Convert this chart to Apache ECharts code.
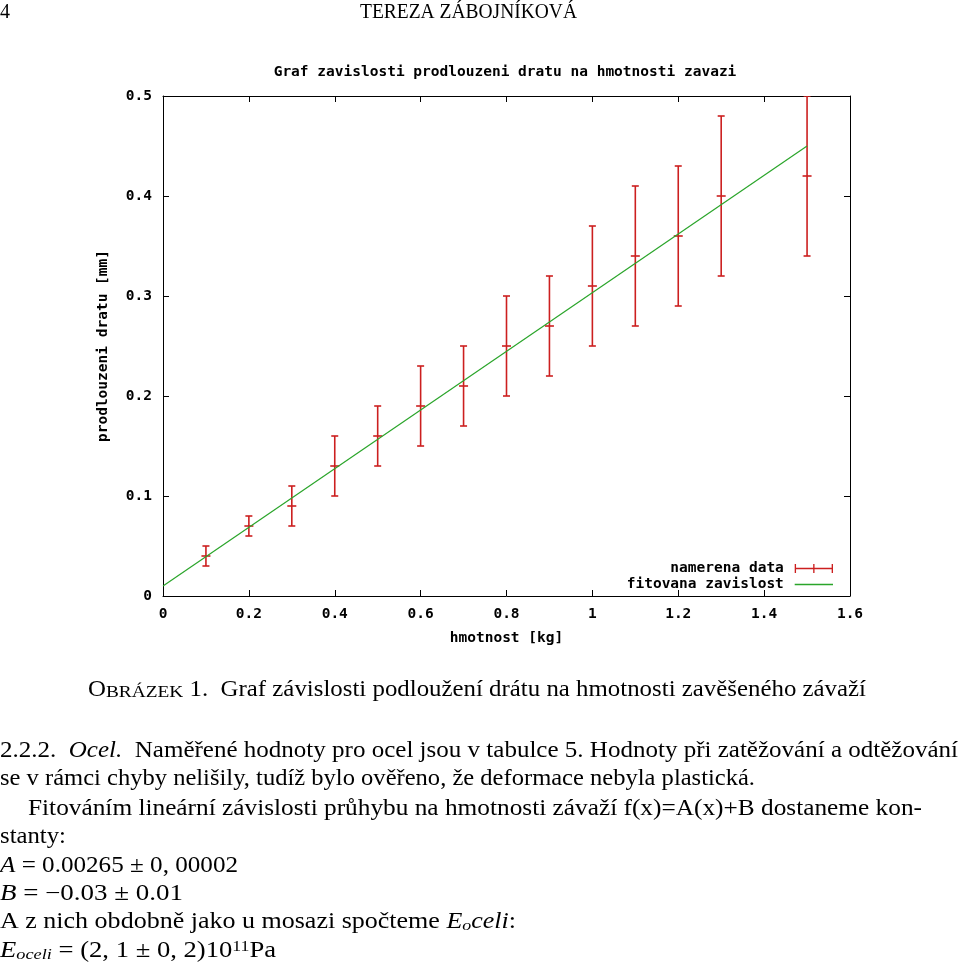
<!DOCTYPE html>
<html><head><meta charset="utf-8">
<script src="https://cdn.jsdelivr.net/npm/echarts@6/dist/echarts.min.js"></script>
<style>html,body{margin:0;padding:0;background:#fff}#c{width:960px;height:968px}</style>
</head><body><div id="c"></div>
<script>
// ---- data ----
const massKg         = [0.1, 0.2, 0.3, 0.4, 0.5, 0.6, 0.7, 0.8, 0.9, 1.0, 1.1, 1.2, 1.3, 1.5];
const elongation     = [0.04, 0.07, 0.09, 0.13, 0.16, 0.19, 0.21, 0.25, 0.27, 0.31, 0.34, 0.36, 0.40, 0.42];
const elongationLow  = [0.03, 0.06, 0.07, 0.10, 0.13, 0.15, 0.17, 0.20, 0.22, 0.25, 0.27, 0.29, 0.32, 0.34];
const elongationHigh = [0.05, 0.08, 0.11, 0.16, 0.19, 0.23, 0.25, 0.30, 0.32, 0.37, 0.41, 0.43, 0.48, 0.50];
const fitMass        = [0, 1.5];
const fitElongation  = [0.01, 0.45];
const xTickLabels = ['0', '0.2', '0.4', '0.6', '0.8', '1', '1.2', '1.4', '1.6'];
const yTickLabels = ['0', '0.1', '0.2', '0.3', '0.4', '0.5'];
const seriesNames = ['namerena data', 'fitovana zavislost'];
const chartTitle = 'Graf zavislosti prodlouzeni dratu na hmotnosti zavazi';
const xName = 'hmotnost [kg]';
const yName = 'prodlouzeni dratu [mm]';

// ---- styles ----
const MONO = '"DejaVu Sans Mono", "Liberation Mono", monospace';
const SERIF = '"Liberation Serif", "Times New Roman", serif';
const RED = '#cc1f1f';
const GREEN = '#2aa52a';
const monoText = {fontFamily: MONO, fontWeight: 'bold', fontSize: 14.5, color: '#000'};

const mctx = document.createElement('canvas').getContext('2d');
function measureFont(t, font){ mctx.font = font; return mctx.measureText(t).width; }

// ---- document text (page around the figure) ----
const BODY = 22.5;
const tokenStyles = {
  n:   {fontSize: BODY},
  i:   {fontSize: BODY, fontStyle: 'italic'},
  h:   {fontSize: 22},
  sc:  {fontSize: 17.5, verticalAlign: 'bottom'},
  sub: {fontSize: 15.5, fontStyle: 'italic', verticalAlign: 'bottom', lineHeight: 6},
  sup: {fontSize: 15, verticalAlign: 'top', lineHeight: 10}
};
const docLines = [
  {x0: 0,   x1: 10,  y: 12,  parts: [['4', 'h']]},
  {x0: 360, x1: 577, y: 12,  parts: [['TEREZA ZÁBOJNÍKOVÁ', 'h']]},
  {x0: 88,  x1: 866, y: 690, parts: [['O', 'n'], ['BRÁZEK', 'sc'], [' 1.  Graf závislosti podloužení drátu na hmotnosti zavěšeného závaží', 'n']]},
  {x0: 0,   x1: 958, y: 751, parts: [['2.2.2.  ', 'n'], ['Ocel.', 'i'], ['  Naměřené hodnoty pro ocel jsou v tabulce 5. Hodnoty při zatěžování a odtěžování', 'n']]},
  {x0: 0,   x1: 755, y: 779, parts: [['se v rámci chyby nelišily, tudíž bylo ověřeno, že deformace nebyla plastická.', 'n']]},
  {x0: 28,  x1: 922, y: 809, parts: [['Fitováním lineární závislosti průhybu na hmotnosti závaží f(x)=A(x)+B dostaneme kon-', 'n']]},
  {x0: 0,   x1: 66,  y: 837, parts: [['stanty:', 'n']]},
  {x0: 0,   x1: 238, y: 866, parts: [['A', 'i'], [' = 0.00265 ± 0, 00002', 'n']]},
  {x0: 0,   x1: 183, y: 894, parts: [['B', 'i'], [' = −0.03 ± 0.01', 'n']]},
  {x0: 0,   x1: 516, y: 922, parts: [['A z nich obdobně jako u mosazi spočteme ', 'n'], ['E', 'i'], ['o', 'sub'], ['celi', 'i'], [':', 'n']]},
  {x0: 0,   x1: 276, y: 951, parts: [['E', 'i'], ['oceli', 'sub'], [' = (2, 1 ± 0, 2)10', 'n'], ['11', 'sup'], ['Pa', 'n']]}
];
const rich = {};
Object.keys(tokenStyles).forEach(k => { rich[k] = Object.assign({fontFamily: SERIF, fill: '#000'}, tokenStyles[k]); });
function docLine(spec){
  let w = 0, s = '';
  spec.parts.forEach(([t, k]) => {
    const st = tokenStyles[k];
    w += measureFont(t, (st.fontStyle === 'italic' ? 'italic ' : '') + st.fontSize + 'px ' + SERIF);
    s += '{' + k + '|' + t + '}';
  });
  return {type: 'text', x: spec.x0, y: spec.y, scaleX: (spec.x1 - spec.x0) / w, silent: true,
    style: {text: s, fontFamily: SERIF, fontSize: BODY, fill: '#000', align: 'left', verticalAlign: 'middle', rich: rich}};
}

// ---- chart ----
const titleW = measureFont(chartTitle, 'bold 14.5px ' + MONO);
const ERR_ICON = 'path://M0,4h40v1.4h-40z M0,0h1.4v9.4h-1.4z M19.3,0h1.4v9.4h-1.4z M38.6,0h1.4v9.4h-1.4z';
const LINE_ICON = 'path://M0,4h40v1.4h-40z M0,0h0.01v0.01h-0.01z M0,9.39h0.01v0.01h-0.01z';

function errorBar(params, api){
  const x = api.value(0);
  const c = api.coord([x, api.value(1)]);
  const lo = api.coord([x, api.value(2)]);
  const hi = api.coord([x, api.value(3)]);
  const style = {stroke: RED, lineWidth: 1.6};
  const cap = 3.5, mid = 4.5;
  return {type: 'group', children: [
    {type: 'line', shape: {x1: lo[0], y1: lo[1], x2: hi[0], y2: hi[1]}, style: style},
    {type: 'line', shape: {x1: lo[0] - cap, y1: lo[1], x2: lo[0] + cap, y2: lo[1]}, style: style},
    {type: 'line', shape: {x1: hi[0] - cap, y1: hi[1], x2: hi[0] + cap, y2: hi[1]}, style: style},
    {type: 'line', shape: {x1: c[0] - mid, y1: c[1], x2: c[0] + mid, y2: c[1]}, style: style}
  ]};
}

const axisLineStyle = {show: true, onZero: false, lineStyle: {color: '#000', width: 1}};
const tickStyle = {show: true, inside: true, length: 6, lineStyle: {color: '#000', width: 1}};

const option = {
  backgroundColor: '#fff',
  animation: false,
  title: {text: chartTitle, left: 505 - titleW / 2, top: 65, padding: 0,
    textStyle: Object.assign({}, monoText)},
  grid: {left: 163, top: 96, width: 687, height: 500},
  legend: {orient: 'vertical', right: 127, top: 561, align: 'right', itemWidth: 40, itemHeight: 9,
    itemGap: 1, padding: 0, selectedMode: false,
    textStyle: Object.assign({padding: [0, 5, 0, 0]}, monoText),
    data: [{name: seriesNames[0], icon: ERR_ICON}, {name: seriesNames[1], icon: LINE_ICON}]},
  xAxis: [
    {type: 'value', min: 0, max: 1.6, interval: 0.2, position: 'bottom',
      name: xName, nameLocation: 'middle', nameGap: 35, nameTextStyle: Object.assign({}, monoText),
      axisLine: axisLineStyle, axisTick: tickStyle, splitLine: {show: false},
      axisLabel: Object.assign({margin: 11, formatter: (v, i) => xTickLabels[i]}, monoText)},
    {type: 'value', min: 0, max: 1.6, interval: 0.2, position: 'top',
      axisLine: axisLineStyle, axisTick: tickStyle, splitLine: {show: false}, axisLabel: {show: false}}
  ],
  yAxis: [
    {type: 'value', min: 0, max: 0.5, interval: 0.1, position: 'left',
      name: yName, nameLocation: 'middle', nameGap: 52, nameTextStyle: Object.assign({}, monoText),
      axisLine: axisLineStyle, axisTick: tickStyle, splitLine: {show: false},
      axisLabel: Object.assign({margin: 11, formatter: (v, i) => yTickLabels[i]}, monoText)},
    {type: 'value', min: 0, max: 0.5, interval: 0.1, position: 'right',
      axisLine: axisLineStyle, axisTick: tickStyle, splitLine: {show: false}, axisLabel: {show: false}}
  ],
  series: [
    {type: 'custom', name: seriesNames[0], xAxisIndex: 0, yAxisIndex: 0, z: 2, clip: true,
      itemStyle: {color: RED}, renderItem: errorBar, encode: {x: 0, y: [1, 2, 3]},
      data: massKg.map((x, i) => [x, elongation[i], elongationLow[i], elongationHigh[i]])},
    {type: 'line', name: seriesNames[1], xAxisIndex: 0, yAxisIndex: 0, z: 3, symbol: 'none',
      lineStyle: {color: GREEN, width: 1.2}, itemStyle: {color: GREEN},
      data: fitMass.map((x, i) => [x, fitElongation[i]])}
  ],
  graphic: {elements: docLines.map(docLine)}
};

const chart = echarts.init(document.getElementById('c'), null, {renderer: 'canvas'});
chart.setOption(option);
</script>
</body></html>
